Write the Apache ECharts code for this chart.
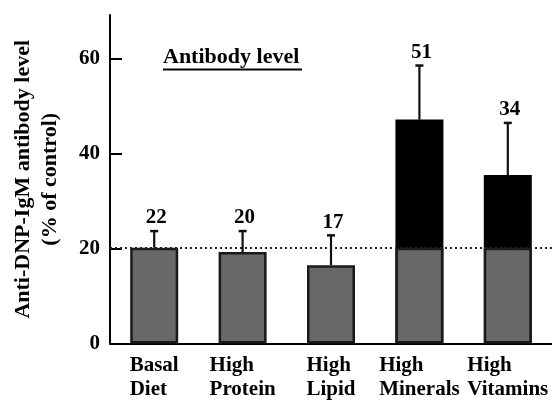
<!DOCTYPE html>
<html><head><meta charset="utf-8">
<script src="https://cdn.jsdelivr.net/npm/echarts@6/dist/echarts.min.js"></script>
<style>html,body{margin:0;padding:0;background:#fff}#c{width:552px;height:400px}</style>
</head><body><div id="c"></div>
<script>
const categories = ['Basal\nDiet', 'High\nProtein', 'High\nLipid', 'High\nMinerals', 'High\nVitamins'];
const grayValues = [20.2, 19.3, 16.5, 20.2, 20.2];
const blackValues = [null, null, null, 47.2, 35.5];
const errorUpper = [23.7, 23.7, 22.8, 58.6, 46.5];
const valueLabels = ['22', '20', '17', '51', '34'];
const controlLevel = 20.2;
const yLabelTicks = [0, 20, 40, 60];
const yTickMarks = [20, 40, 60];
const titleText = 'Antibody level';
const yName = 'Anti-DNP-IgM antibody level\n(% of control)';

const FONT = '"Liberation Serif", "Times New Roman", serif';
const chart = echarts.init(document.getElementById('c'), null, {renderer: 'canvas'});
const errData = categories.map((c, i) => [i, blackValues[i] != null ? blackValues[i] : grayValues[i], errorUpper[i]]);

const option = {
  animation: false,
  backgroundColor: '#fff',
  title: {
    text: titleText, left: 163, top: 46, padding: 0,
    textStyle: {fontFamily: FONT, fontSize: 22, fontWeight: 'bold', color: '#000'}
  },
  graphic: [{type: 'line', shape: {x1: 163, y1: 69.5, x2: 302, y2: 69.5}, style: {stroke: '#000', lineWidth: 2}}],
  grid: {left: 110, right: -9, top: 15, bottom: 53.3},
  xAxis: {
    type: 'category', data: categories,
    axisLine: {lineStyle: {color: '#000', width: 2}},
    axisTick: {inside: true, length: 10, lineStyle: {color: '#000', width: 2}},
    axisLabel: {
      margin: 10, interval: 0,
      formatter: v => v.split('\n').map(s => '{a|' + s + '}').join('\n'),
      rich: {a: {align: 'left', fontFamily: FONT, fontSize: 21, fontWeight: 'bold', color: '#000', lineHeight: 24}}
    }
  },
  yAxis: {
    type: 'value', min: 0, max: 69.25, interval: 20,
    name: yName, nameLocation: 'middle', nameGap: 46, nameRotate: 90,
    nameTextStyle: {fontFamily: FONT, fontSize: 22, fontWeight: 'bold', color: '#000', lineHeight: 27},
    axisLine: {show: true, lineStyle: {color: '#000', width: 2}},
    axisTick: {show: true, inside: true, length: 12, customValues: yTickMarks, lineStyle: {color: '#000', width: 2}},
    axisLabel: {customValues: yLabelTicks, margin: 10, padding: [16, 0, 0, 0], fontFamily: FONT, fontSize: 21, fontWeight: 'bold', color: '#000'},
    splitLine: {show: false}
  },
  series: [
    {
      type: 'bar', data: blackValues, barWidth: 48, barGap: '-100%',
      itemStyle: {color: '#000', borderColor: '#000', borderWidth: 2}
    },
    {
      type: 'bar', data: grayValues, barWidth: 48, barGap: '-100%',
      itemStyle: {color: '#686868', borderColor: '#1a1a1a', borderWidth: 2.5},
      markLine: {
        silent: true, symbol: 'none', label: {show: false},
        lineStyle: {color: '#222', width: 2, type: [2, 3]},
        data: [{yAxis: controlLevel}]
      }
    },
    {
      type: 'custom', data: errData, encode: {x: 0, y: [1, 2]}, z: 5,
      renderItem: function (params, api) {
        const x = api.coord([api.value(0), 0])[0];
        const yb = api.coord([api.value(0), api.value(1)])[1];
        const yt = api.coord([api.value(0), api.value(2)])[1];
        return {
          type: 'group', children: [
            {type: 'line', shape: {x1: x, y1: yb, x2: x, y2: yt}, style: {stroke: '#111', lineWidth: 2.2}},
            {type: 'line', shape: {x1: x - 4, y1: yt, x2: x + 4, y2: yt}, style: {stroke: '#111', lineWidth: 2.5}},
            {type: 'text', x: x + 2, y: yt - 13, style: {
              text: valueLabels[params.dataIndex], fontFamily: FONT, fontSize: 21, fontWeight: 'bold',
              fill: '#000', align: 'center', verticalAlign: 'middle'
            }}
          ]
        };
      }
    }
  ]
};
chart.setOption(option);
</script>
</body></html>
